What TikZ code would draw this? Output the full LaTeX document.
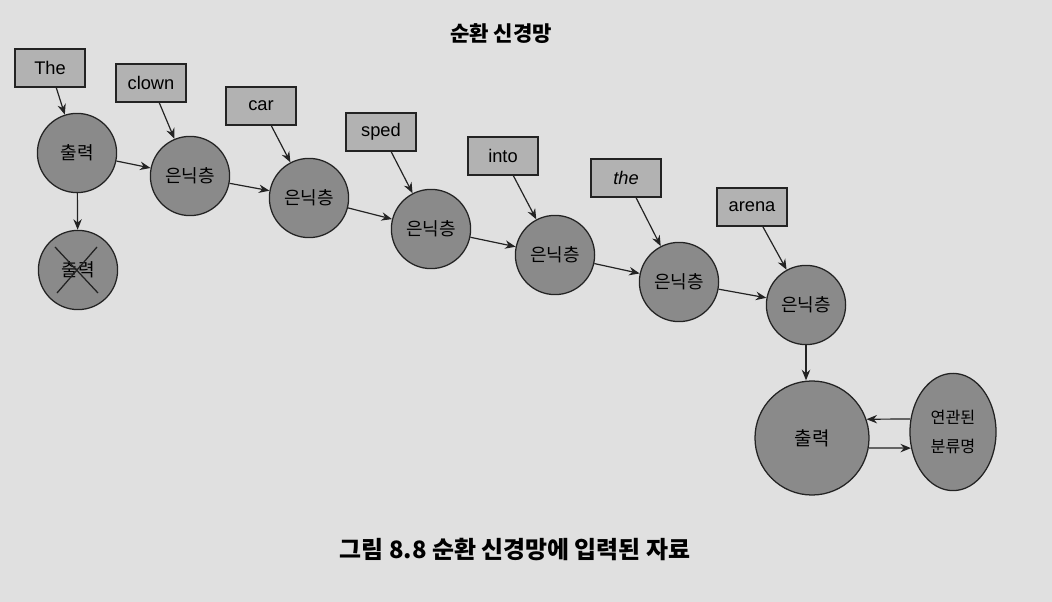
\documentclass[tikz,border=0pt]{standalone}
\usepackage{fontspec}
\setmainfont{Liberation Sans}
\newfontfamily\kr{Noto Sans CJK KR}
\usetikzlibrary{arrows.meta, positioning, shapes.geometric}

\definecolor{paper}{RGB}{224,224,224}
\definecolor{cellgray}{RGB}{138,138,138}
\definecolor{wordgray}{RGB}{178,178,178}
\definecolor{inkgray}{RGB}{35,35,35}

\tikzset{
  cell/.style={circle, draw=inkgray, line width=0.9pt, fill=cellgray, minimum size=1.98cm, inner sep=0pt, font=\kr\fontsize{12.8}{14}\selectfont},
  word/.style={rectangle, draw=inkgray, line width=0.9pt, fill=wordgray, minimum width=1.75cm, minimum height=0.95cm, font=\fontsize{13}{15}\selectfont},
  link/.style={draw=inkgray, line width=0.85pt, -{Stealth[length=7.5pt,width=6pt]}}
}

\begin{document}
\begin{tikzpicture}[x=0.025cm, y=-0.025cm]
  \fill[paper] (0,0) rectangle (1052,602);

  %Define nodes
  \node[font=\kr\bfseries\fontsize{15}{17}\selectfont] (title) at (501,34) {순환 신경망};

  \node[word] (the) at (50,68) {The};
  \node[word] (clown) at (151,83) {clown};
  \node[word] (car) at (261,106) {car};
  \node[word] (sped) at (381,132) {sped};
  \node[word] (into) at (503,156) {into};
  \node[word] (thew) at (626,178) {\itshape the};
  \node[word] (arena) at (752,207) {arena};

  \node[cell] (out0) at (77,153) {출력};
  \node[cell] (drop) at (78,270) {출력};
  \node[cell] (h1) at (190,176) {은닉층};
  \node[cell] (h2) at (309,198) {은닉층};
  \node[cell] (h3) at (431,229) {은닉층};
  \node[cell] (h4) at (555,255) {은닉층};
  \node[cell] (h5) at (679,282) {은닉층};
  \node[cell] (h6) at (806,305) {은닉층};
  \node[cell, minimum size=2.85cm, font=\kr\fontsize{13.5}{15}\selectfont] (out) at (812,438) {출력};
  \node[cell, ellipse, minimum width=2.15cm, minimum height=2.93cm, align=center, font=\kr\fontsize{11.5}{20}\selectfont] (label) at (953,432) {연관된\\분류명};

  \node[font=\kr\bfseries\fontsize{17}{19}\selectfont] (caption) at (515,550) {그림 8.8 순환 신경망에 입력된 자료};

  % Connect the nodes
  \draw[link] (the) -- (out0);
  \draw[link] (clown) -- (h1);
  \draw[link] (car) -- (h2);
  \draw[link] (sped) -- (h3);
  \draw[link] (into) -- (h4);
  \draw[link] (thew) -- (h5);
  \draw[link] (arena) -- (h6);

  \draw[link] (out0) -- (drop);
  \draw[link] (out0) -- (h1);
  \draw[link] (h1) -- (h2);
  \draw[link] (h2) -- (h3);
  \draw[link] (h3) -- (h4);
  \draw[link] (h4) -- (h5);
  \draw[link] (h5) -- (h6);
  \draw[link] (h6) -- (h6 |- out.north);
  \draw[link] (label.163) -- (out.19.5);
  \draw[link] (out.-10) -- (label.201);

  % Cross out
  \draw[inkgray, line width=0.9pt] ([shift={(-0.575cm,0.575cm)}]drop.center) -- ([shift={(0.5cm,-0.575cm)}]drop.center);
  \draw[inkgray, line width=0.9pt] ([shift={(-0.525cm,-0.575cm)}]drop.center) -- ([shift={(0.475cm,0.575cm)}]drop.center);
\end{tikzpicture}
\end{document}
